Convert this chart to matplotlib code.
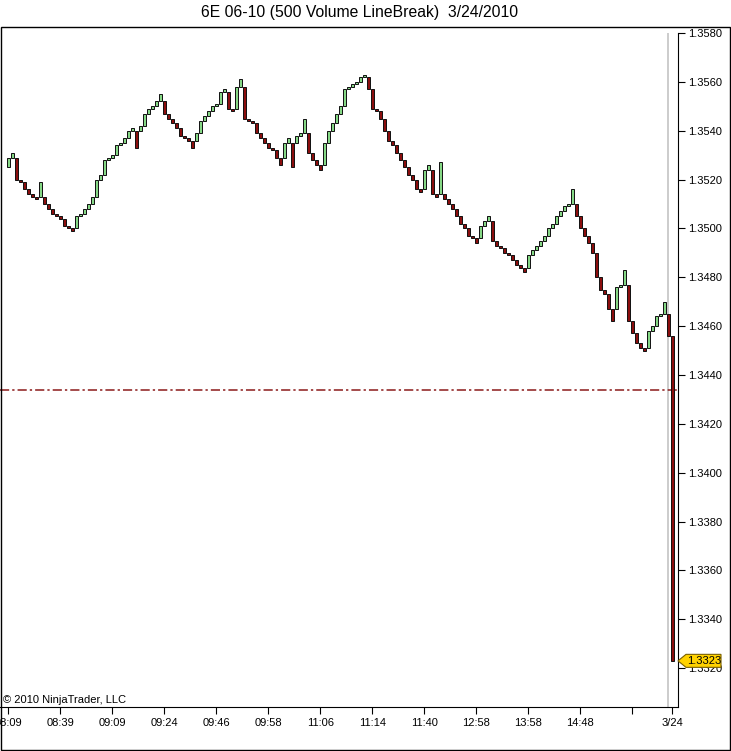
import numpy as np
import matplotlib.pyplot as plt
from matplotlib.patches import Rectangle, Polygon
from matplotlib.transforms import blended_transform_factory

plt.rcParams['font.family'] = ['Liberation Sans', 'DejaVu Sans']

# 6E 06-10, 500 volume line break bars (close of every line, in order)
first_open = 1.3525
closes = [
    1.3529, 1.3531, 1.3520, 1.3519, 1.3516, 1.3514, 1.3513, 1.3512, 1.3519, 1.3510,
    1.3508, 1.3506, 1.3505, 1.3504, 1.3501, 1.3500, 1.3499, 1.3505, 1.3506, 1.3508,
    1.3510, 1.3513, 1.3520, 1.3522, 1.3528, 1.3529, 1.3530, 1.3534, 1.3535, 1.3537,
    1.3540, 1.3541, 1.3533, 1.3542, 1.3547, 1.3549, 1.3550, 1.3552, 1.3555, 1.3547,
    1.3545, 1.3543, 1.3541, 1.3538, 1.3537, 1.3536, 1.3533, 1.3539, 1.3544, 1.3546,
    1.3548, 1.3550, 1.3551, 1.3556, 1.3557, 1.3549, 1.3548, 1.3558, 1.3561, 1.3545,
    1.3544, 1.3543, 1.3539, 1.3537, 1.3535, 1.3533, 1.3532, 1.3529, 1.3526, 1.3535,
    1.3537, 1.3525, 1.3538, 1.3539, 1.3545, 1.3531, 1.3528, 1.3526, 1.3524, 1.3535,
    1.3540, 1.3543, 1.3547, 1.3550, 1.3557, 1.3558, 1.3559, 1.3560, 1.3562, 1.3563,
    1.3557, 1.3549, 1.3548, 1.3545, 1.3540, 1.3536, 1.3534, 1.3531, 1.3528, 1.3525,
    1.3522, 1.3520, 1.3516, 1.3515, 1.3524, 1.3526, 1.3514, 1.3513, 1.3527, 1.3512,
    1.3510, 1.3508, 1.3505, 1.3502, 1.3500, 1.3497, 1.3496, 1.3494, 1.3501, 1.3503,
    1.3505, 1.3495, 1.3493, 1.3492, 1.3490, 1.3489, 1.3487, 1.3485, 1.3484, 1.3482,
    1.3489, 1.3491, 1.3493, 1.3495, 1.3497, 1.3500, 1.3502, 1.3505, 1.3507, 1.3509,
    1.3510, 1.3516, 1.3505, 1.3500, 1.3497, 1.3494, 1.3490, 1.3480, 1.3475, 1.3473,
    1.3467, 1.3462, 1.3476, 1.3477, 1.3483, 1.3462, 1.3457, 1.3453, 1.3451, 1.3450,
    1.3458, 1.3460, 1.3464, 1.3465, 1.3470, 1.3456, 1.3323,
]

tick_pos = [0, 13, 26, 39, 52, 65, 78, 91, 104, 117, 130, 143, 156, 166]
tick_labels = ['08:09', '08:39', '09:09', '09:24', '09:46', '09:58', '11:06',
               '11:14', '11:40', '12:58', '13:58', '14:48', '', '3/24']
price_ticks = [1.3320, 1.3340, 1.3360, 1.3380, 1.3400, 1.3420, 1.3440,
               1.3460, 1.3480, 1.3500, 1.3520, 1.3540, 1.3560, 1.3580]
ref_level = 1.3434
last_price = 1.3323
marker_bar = 165

# line break: same direction -> open at last close, reversal -> open at last open
opens = [first_open]
for i in range(1, len(closes)):
    prev_up = closes[i - 1] > opens[i - 1]
    now_up = closes[i] > closes[i - 1]
    opens.append(closes[i - 1] if now_up == prev_up else opens[i - 1])

opens = np.array(opens)
closes = np.array(closes)
x = np.arange(len(closes))
colors = np.where(closes > opens, '#86D886', '#8B0E0E')

W, H = 731, 751
fig = plt.figure(figsize=(W / 100, H / 100), dpi=100)
ax = fig.add_axes([0, 44 / H, 678 / W, 680 / H])

ylo, yhi = 1.330411, 1.358246
ax.set_xlim(-2.075, 167.4)
ax.set_ylim(ylo, yhi)

ax.vlines(marker_bar, ylo, 1.3580, color='#C4C4C4', lw=1.2, zorder=1)
ax.axhline(ref_level, color='#8B1A1A', lw=1.1, ls=(0, (6, 2, 1.5, 2)), zorder=1)
ax.bar(x, closes - opens, bottom=opens, width=0.68, color=colors,
       edgecolor='#101010', linewidth=0.7, zorder=2)

ax.spines['top'].set_visible(False)
ax.spines['left'].set_visible(False)
ax.spines['right'].set_bounds(ylo, 1.3580)
ax.yaxis.tick_right()
ax.set_yticks(price_ticks)
ax.set_yticklabels(['%.4f' % p for p in price_ticks])
ax.set_xticks(tick_pos)
ax.set_xticklabels(tick_labels)
ax.tick_params(axis='y', direction='out', length=5, width=0.8, labelsize=8, pad=2)
ax.tick_params(axis='x', direction='out', length=5, width=0.8, labelsize=8, pad=3)

# last price tag
tr = blended_transform_factory(ax.transAxes, ax.transData)
h = 0.000266
x0, x1, x2 = 1.0, 1 + 8 / 678, 1 + 43 / 678
tag = Polygon([(x0, last_price), (x1, last_price + h), (x2, last_price + h),
               (x2, last_price - h), (x1, last_price - h)], closed=True,
              transform=tr, facecolor='#FFD200', edgecolor='#7A6000', lw=0.8,
              clip_on=False, zorder=5)
ax.add_patch(tag)
ax.text(1 + 26 / 678, last_price, '%.4f' % last_price, transform=tr,
        ha='center', va='center', fontsize=8, clip_on=False, zorder=6)

fig.text(360 / W, 1 - 12 / H, '6E 06-10 (500 Volume LineBreak)  3/24/2010',
         ha='center', va='center', fontsize=11.3)
fig.text(3 / W, 1 - 700 / H, '\u00a9 2010 NinjaTrader, LLC', ha='left',
         va='center', fontsize=8)

fig.add_artist(Rectangle((0.6 / W, 0.6 / H), 729.5 / W, (724 - 0.6) / H,
                         transform=fig.transFigure, fill=False,
                         edgecolor='black', lw=1))

fig.savefig('out.png', dpi=100)
